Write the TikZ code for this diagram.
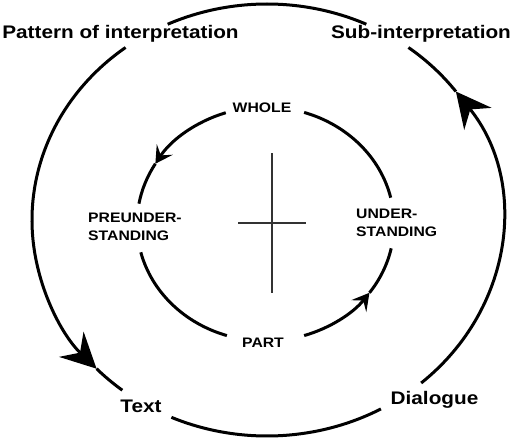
\documentclass[tikz,border=0pt]{standalone}
\usepackage{fontspec}
\setmainfont{Liberation Sans}[FakeStretch=1.14]
\usetikzlibrary{arrows.meta}
\begin{document}
\begin{tikzpicture}[x=1pt,y=1pt,
  ring/.style={line width=3pt},
  bigtip/.style={-{Stealth[length=35pt,width=35pt,inset=12pt]}},
  smalltip/.style={-{Stealth[length=17pt,width=19pt,inset=7pt]}},
  outerlab/.style={font=\fontsize{18.2}{22}\selectfont\bfseries, inner sep=0pt, anchor=base},
  innerlab/.style={font=\fontsize{13.8}{18}\selectfont\bfseries, inner sep=0pt},
  crossline/.style={line width=1.2pt, draw=black!80}]
\useasboundingbox (0,0) rectangle (514,440);
\coordinate (O) at (267,220);
\coordinate (I) at (265.5,216);
% outer ring points
\path (O) ++(65:235 and 216) coordinate (oA);
\path (O) ++(127:235 and 216) coordinate (oB);
\path (O) ++(223.5:235 and 216) coordinate (oBt);
\path (O) ++(246:235 and 216) coordinate (oC);
\path (O) ++(-49:235 and 216) coordinate (oD);
\path (O) ++(36.5:235 and 216) coordinate (oDt);
% inner ring points
\path (I) ++(108:128.5 and 117) coordinate (iA);
\path (I) ++(149:128.5 and 117) coordinate (iAt);
\path (I) ++(13:128.5 and 117) coordinate (iB);
\path (I) ++(194:128.5 and 117) coordinate (iC);
\path (I) ++(287.5:128.5 and 117) coordinate (iD);
\path (I) ++(324:128.5 and 117) coordinate (iDt);
% outer ring
\draw[ring] (oA) arc[start angle=65,end angle=115,x radius=235,y radius=216];
\draw[ring,bigtip] (oB) arc[start angle=127,end angle=223.5,x radius=235,y radius=216];
\draw[ring] (oBt) arc[start angle=223.5,end angle=232,x radius=235,y radius=216];
\draw[ring] (oC) arc[start angle=246,end angle=299,x radius=235,y radius=216];
\draw[ring,bigtip] (oD) arc[start angle=-49,end angle=36.5,x radius=235,y radius=216];
\draw[ring] (oDt) arc[start angle=36.5,end angle=53,x radius=235,y radius=216];
% inner ring
\draw[ring,smalltip] (iA) arc[start angle=108,end angle=149,x radius=128.5,y radius=117];
\draw[ring] (iAt) arc[start angle=149,end angle=170,x radius=128.5,y radius=117];
\draw[ring] (iB) arc[start angle=13,end angle=72.5,x radius=128.5,y radius=117];
\draw[ring] (iC) arc[start angle=194,end angle=252.5,x radius=128.5,y radius=117];
\draw[ring,smalltip] (iD) arc[start angle=287.5,end angle=324,x radius=128.5,y radius=117];
\draw[ring] (iDt) arc[start angle=324,end angle=348,x radius=128.5,y radius=117];
% cross
\coordinate (vt) at (272,287);
\coordinate (vb) at (272,147);
\coordinate (hl) at (238,217);
\coordinate (hr) at (306,217);
\draw[crossline] (vt) -- (vb);
\draw[crossline] (hl) -- (hr);
% labels
\node[outerlab] (pattern) at (120.5,401) {Pattern of interpretation};
\node[outerlab] (sub) at (421,401) {Sub-interpretation};
\node[outerlab] (text) at (141,27.3) {Text};
\node[outerlab] (dialogue) at (434.5,36) {Dialogue};
\node[innerlab, anchor=base] (whole) at (262,327) {WHOLE};
\node[innerlab, anchor=base] (part) at (263,93) {PART};
\node[innerlab, align=left, anchor=base west] (preund) at (88,200) {PREUNDER-\\STANDING};
\node[innerlab, align=left, anchor=base west] (und) at (356,204) {UNDER-\\STANDING};
\end{tikzpicture}
\end{document}
